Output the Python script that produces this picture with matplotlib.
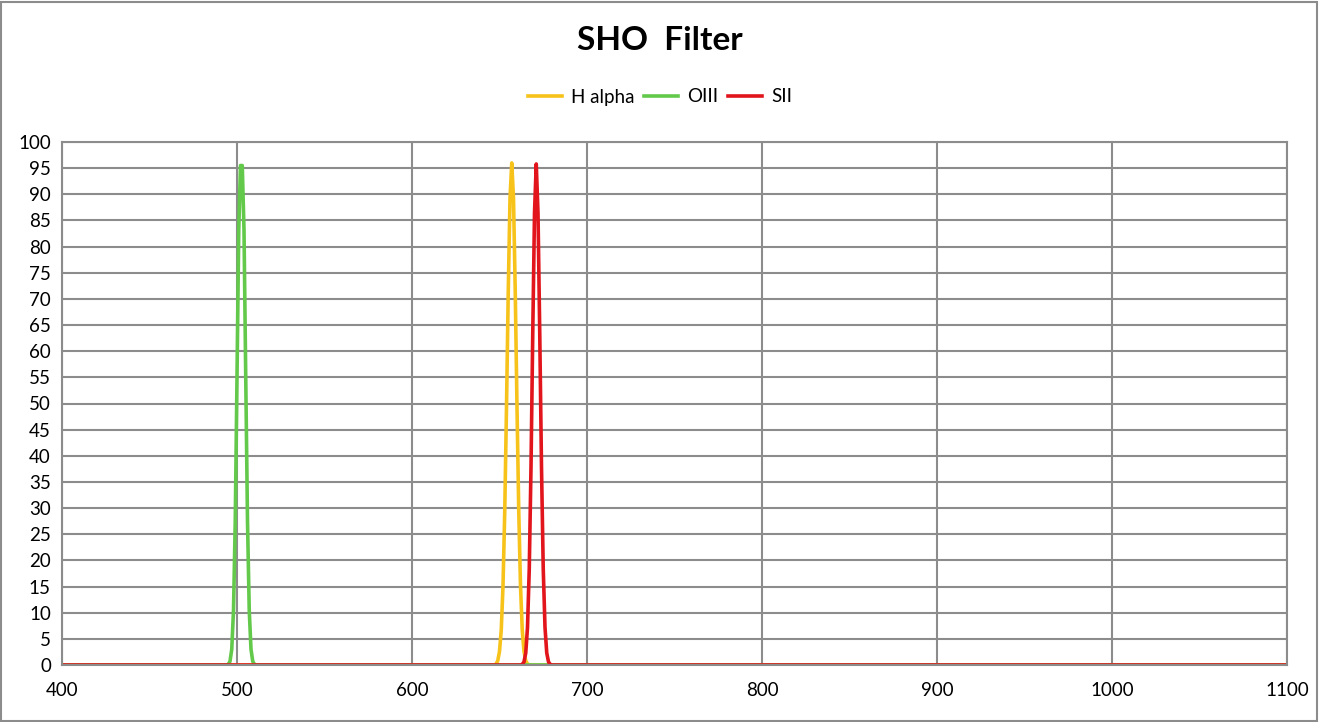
import matplotlib
matplotlib.use("Agg")
from matplotlib import pyplot as plt
from matplotlib.patches import Rectangle

# wavelength (nm) sample points, transmission (%)
oiii_nm = [400, 494, 495, 496, 497, 498, 499, 500, 501, 502, 503, 504, 505,
           506, 507, 508, 509, 510, 511, 512, 1100]
oiii_t = [0, 0, 0.1, 0.7, 3.0, 10.4, 27.5, 54.9, 83.2, 95.5, 95.5, 83.2,
          54.9, 27.5, 10.4, 3.0, 0.7, 0.1, 0, 0, 0]

ha_nm = [400, 646, 647, 648, 649, 650, 651, 652, 653, 654, 655, 656, 657,
         658, 659, 660, 661, 662, 663, 664, 665, 666, 667, 668, 1100]
ha_t = [0, 0, 0, 0.2, 0.8, 2.6, 6.7, 15.1, 29.4, 49.3, 71.4, 89.2, 96.0,
        89.2, 71.4, 49.3, 29.4, 15.1, 6.7, 2.6, 0.8, 0.2, 0, 0, 0]

sii_nm = [400, 662, 663, 664, 665, 666, 667, 668, 669, 670, 671, 672, 673,
          674, 675, 676, 677, 678, 679, 680, 1100]
sii_t = [0, 0, 0.1, 0.6, 2.3, 7.2, 18.3, 37.8, 63.4, 86.4, 95.8, 86.4, 63.4,
         37.8, 18.3, 7.2, 2.3, 0.6, 0.1, 0, 0]

series = [("H alpha", ha_nm, ha_t, "#F7C31A"),
          ("OIII", oiii_nm, oiii_t, "#63C94B"),
          ("SII", sii_nm, sii_t, "#E2141C")]

plt.rcParams["font.family"] = ["Lato", "DejaVu Sans"]

fig = plt.figure(figsize=(13.2, 7.22), dpi=100)
ax = fig.add_axes([62 / 1320, 1 - 665 / 722, 1225 / 1320, 523 / 722])

for name, x, y, c in series:
    ax.plot(x, y, color=c, lw=2.6, label=name, solid_joinstyle="round")

ax.set_xlim(400, 1100)
ax.set_ylim(0, 100)
ax.set_xticks(range(400, 1101, 100))
ax.set_yticks(range(0, 101, 5))
ax.grid(True, color="#8c8c8c", lw=1.5)
ax.set_axisbelow(True)
for s in ax.spines.values():
    s.set_color("#8c8c8c")
    s.set_linewidth(1.5)
ax.tick_params(length=0, labelsize=13.5, pad=8, colors="black")
ax.tick_params(axis="x", pad=12)

fig.text(0.5, 1 - 40 / 722, "SHO  Filter", ha="center", va="center",
         fontsize=24, fontweight="bold")
fig.legend(loc="center", bbox_to_anchor=(0.5, 1 - 97 / 722), ncol=3,
           frameon=False, fontsize=13.5, handlelength=1.8,
           columnspacing=0.5, handletextpad=0.5)

fig.add_artist(Rectangle((0.001, 0.002), 0.997, 0.995, transform=fig.transFigure,
                         fill=False, edgecolor="#8c8c8c", lw=1.5))

fig.savefig("out.png", dpi=100)
